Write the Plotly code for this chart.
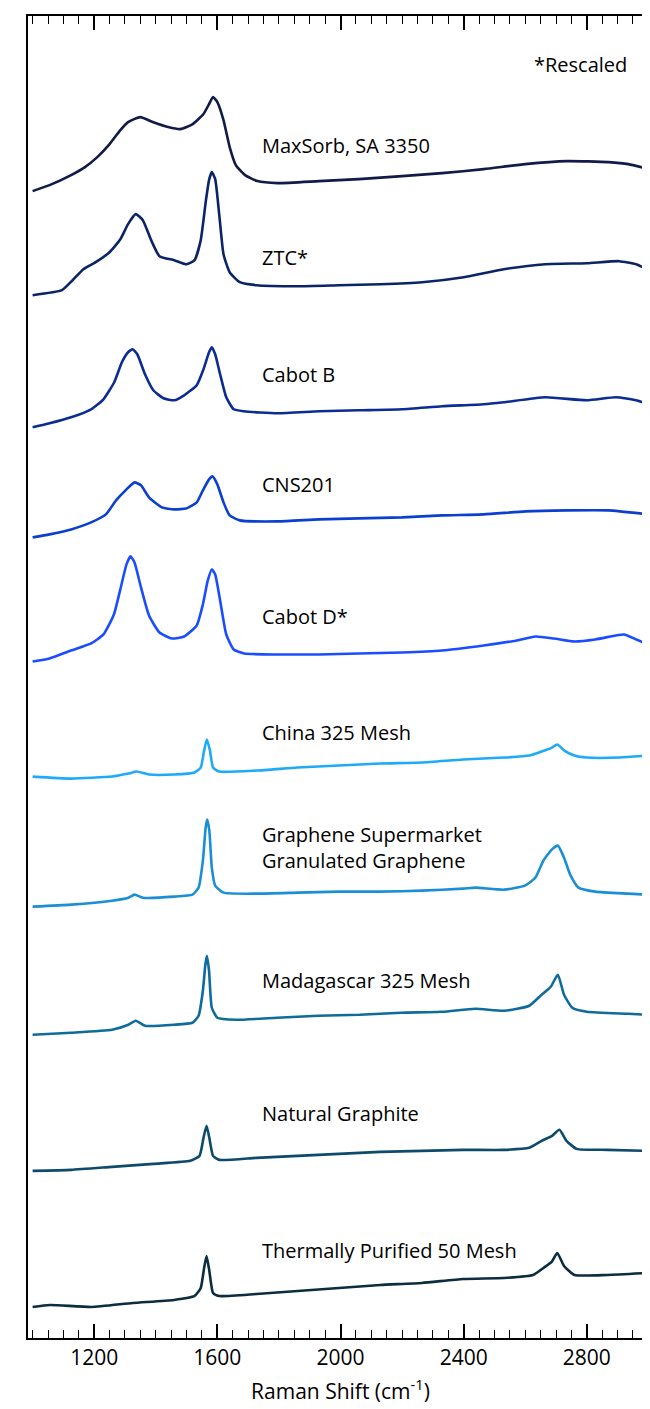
import plotly.graph_objects as go

# ---- data (heights in arbitrary stacked units) ----
maxsorb_x = [1000,1055,1125,1170,1210,1250,1285,1310,1350,1390,1440,1480,1520,1555,1573,1586,1600,1620,1640,1660,1690,1730,1795,1930,2060,2200,2330,2465,2600,2735,2870,2935,3000]
maxsorb_y = [1146,1152,1162,1170,1180,1193,1207,1215,1220,1215,1210,1208,1213,1223,1233,1240,1235,1217,1190,1172,1162,1156,1154,1156,1158,1161,1164,1168,1173,1176,1175,1173,1168]

ztc_x = [1000,1095,1130,1165,1205,1250,1285,1310,1335,1358,1385,1412,1460,1500,1526,1546,1563,1573,1582,1593,1606,1620,1640,1673,1727,1860,1995,2130,2265,2400,2530,2665,2800,2905,2960,3000]
ztc_y = [1042,1047,1057,1068,1075,1085,1098,1113,1123,1117,1097,1081,1077,1073,1077,1097,1137,1157,1165,1158,1123,1083,1065,1055,1052,1051,1052,1053,1055,1060,1068,1073,1074,1076,1073,1067]

cabotb_x = [1000,1055,1125,1190,1230,1265,1290,1310,1325,1340,1365,1392,1425,1460,1492,1533,1555,1573,1582,1593,1609,1629,1653,1687,1795,1930,2060,2200,2330,2465,2530,2665,2800,2895,2960,3000]
cabotb_y = [910,914,920,928,938,955,975,985,988,983,963,947,939,937,942,952,968,985,990,983,963,940,928,926,924,926,927,928,931,933,935,940,937,940,937,933]

cns_x = [1000,1055,1125,1190,1238,1271,1305,1331,1352,1378,1420,1460,1500,1533,1553,1573,1584,1600,1620,1640,1673,1795,1930,2060,2200,2330,2465,2600,2735,2870,3000]
cns_y = [800,803,808,815,823,837,848,855,852,840,830,828,829,835,847,858,861,853,835,822,817,816,818,819,820,822,823,826,827,827,823]

cabotd_x = [1000,1055,1125,1190,1230,1264,1284,1305,1318,1331,1352,1378,1412,1452,1492,1533,1553,1569,1582,1593,1609,1629,1653,1687,1795,1930,2060,2200,2330,2465,2573,2633,2693,2760,2827,2894,2921,2961,3000]
cabotd_y = [676,679,687,694,703,723,747,773,781,775,750,722,705,699,701,712,733,757,768,763,737,703,688,684,683,683,684,685,687,692,697,701,699,696,698,702,703,698,693]

china_x = [1000,1125,1258,1311,1338,1378,1459,1526,1546,1557,1566,1576,1586,1606,1727,1861,1995,2129,2264,2398,2532,2613,2653,2687,2704,2727,2760,2800,2907,3000]
china_y = [561,559,561,564,566,563,563,565,570,587,598,587,570,566,567,570,572,574,575,578,580,582,586,590,593,587,582,580,580,582]

graphene_x = [1000,1125,1258,1311,1331,1358,1459,1519,1539,1553,1562,1567,1574,1582,1593,1620,1727,1861,1995,2129,2264,2398,2438,2532,2599,2633,2659,2686,2706,2726,2746,2773,2827,2934,3000]
graphene_y = [431,433,437,440,443,440,441,443,450,477,510,518,507,470,452,445,444,445,446,446,447,449,450,448,452,460,477,488,492,480,463,450,446,444,443]

madag_x = [1000,1125,1258,1311,1335,1365,1459,1519,1539,1553,1561,1566,1573,1582,1600,1660,1794,1928,2062,2197,2331,2438,2532,2613,2653,2683,2706,2726,2753,2800,2934,3000]
madag_y = [303,305,308,313,317,312,313,315,322,347,373,382,367,330,320,318,320,322,323,325,326,329,327,332,343,351,363,343,330,326,324,323]

natural_x = [1000,1125,1258,1392,1512,1542,1555,1565,1574,1586,1606,1727,1861,1995,2129,2264,2398,2532,2613,2653,2687,2711,2734,2767,2867,3000]
natural_y = [167,168,171,174,177,182,200,212,200,182,178,180,182,184,186,187,188,188,190,197,202,208,197,189,188,187]

thermal_x = [1000,1056,1191,1325,1459,1526,1546,1557,1565,1574,1586,1606,1727,1861,1995,2129,2264,2398,2532,2626,2659,2686,2704,2726,2760,2867,3000]
thermal_y = [31,33,31,35,38,42,50,70,82,67,45,42,44,47,50,53,55,59,60,63,70,76,85,72,63,63,65]

series_names = ["MaxSorb, SA 3350", "ZTC*", "Cabot B", "CNS201", "Cabot D*",
                "China 325 Mesh", "Graphene Supermarket<br>Granulated Graphene",
                "Madagascar 325 Mesh", "Natural Graphite", "Thermally Purified 50 Mesh"]
label_y = [1192, 1080, 963, 853, 721, 605, 490, 357, 224, 87]

x_ticks = [1200, 1600, 2000, 2400, 2800]

# ---- styling ----
colors = ["#111a48", "#0b2468", "#0b2c92", "#0a3fcf", "#1a4dff",
          "#1eaaf6", "#1a8fd5", "#0f6b9c", "#0e4b6b", "#0c2c40"]
xs = [maxsorb_x, ztc_x, cabotb_x, cns_x, cabotd_x, china_x, graphene_x, madag_x, natural_x, thermal_x]
ys = [maxsorb_y, ztc_y, cabotb_y, cns_y, cabotd_y, china_y, graphene_y, madag_y, natural_y, thermal_y]

FONT = "'Open Sans', 'Noto Sans', sans-serif"

fig = go.Figure()
for name, x, y, c in zip(series_names, xs, ys, colors):
    fig.add_trace(go.Scatter(x=x, y=y, mode="lines", name=name,
                             line=dict(color=c, width=2.6, shape="spline", smoothing=0.5),
                             showlegend=False))

annotations = []
for name, ly in zip(series_names, label_y):
    annotations.append(dict(x=1740, y=ly, xref="x", yref="y", text=name, showarrow=False,
                            xanchor="left", yanchor="middle", align="left",
                            font=dict(family=FONT, size=20, color="black")))
annotations.append(dict(x=2623, y=1273, xref="x", yref="y", text="*Rescaled", showarrow=False,
                        xanchor="left", yanchor="middle",
                        font=dict(family=FONT, size=20, color="black")))

fig.update_layout(
    width=650, height=1409,
    margin=dict(l=20, r=3, t=8, b=79),
    paper_bgcolor="white", plot_bgcolor="white",
    annotations=annotations,
    font=dict(family=FONT, size=20, color="black"),
)
fig.update_xaxes(
    range=[985, 3015], tickvals=x_ticks, ticktext=[str(v) for v in x_ticks],
    ticks="inside", ticklen=14, tickwidth=1.6, tickcolor="black",
    minor=dict(dtick=50, tick0=1000, ticks="inside", ticklen=7.5, tickwidth=1.4, tickcolor="black", showgrid=False),
    showline=True, linecolor="black", linewidth=2.2, mirror="allticks",
    showgrid=False, zeroline=False,
    tickfont=dict(family=FONT, size=21, color="black"),
    title=dict(text="Raman Shift (cm<sup>-1</sup>)", font=dict(family=FONT, size=21, color="black"), standoff=14),
)
fig.update_yaxes(
    range=[0, 1321], showticklabels=False, ticks="",
    showline=True, linecolor="black", linewidth=2.2, mirror=True,
    showgrid=False, zeroline=False,
)

fig.write_html("out.html")
